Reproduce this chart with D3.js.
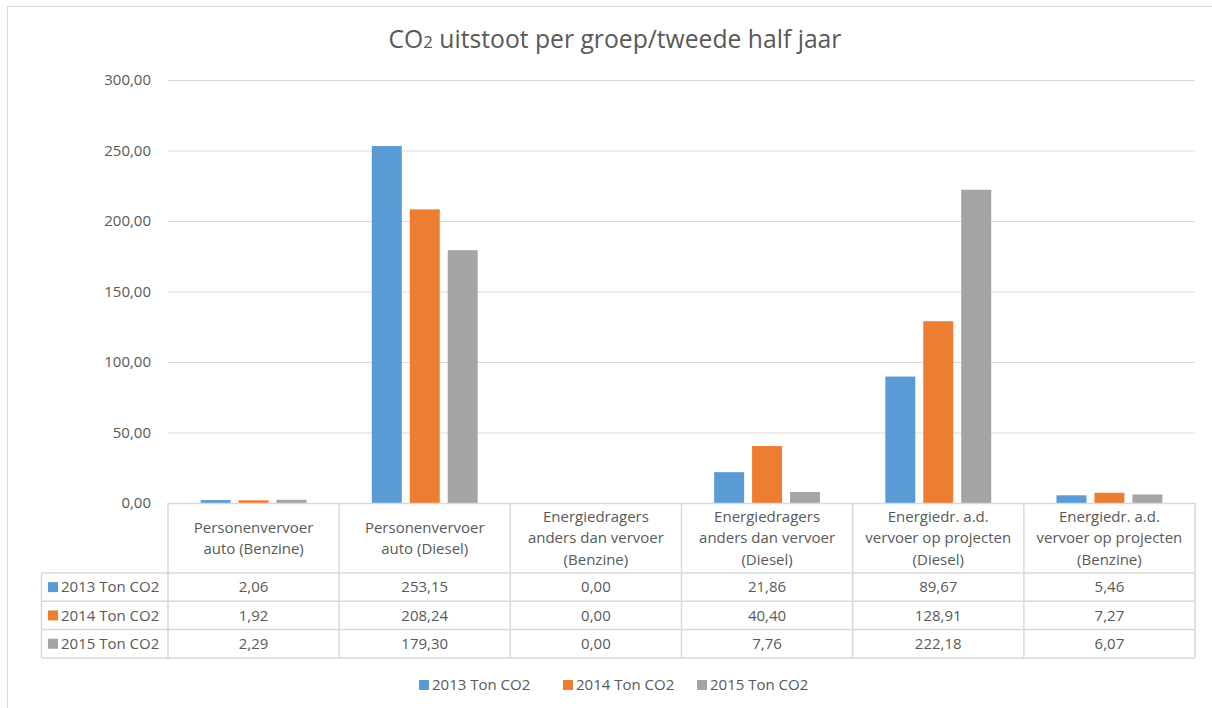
<!DOCTYPE html>
<html>
<head>
<meta charset="utf-8">
<script src="https://cdn.jsdelivr.net/npm/d3@7"></script>
<style>
  html, body { margin: 0; padding: 0; background: #fff; }
  svg { display: block; }
  text { font-family: "Open Sans", "Noto Sans", sans-serif; fill: #595959; }
</style>
</head>
<body>
<svg id="chart" width="1212" height="708"></svg>
<script>
const categories = [
  ["Personenvervoer", "auto (Benzine)"],
  ["Personenvervoer", "auto (Diesel)"],
  ["Energiedragers", "anders dan vervoer", "(Benzine)"],
  ["Energiedragers", "anders dan vervoer", "(Diesel)"],
  ["Energiedr. a.d.", "vervoer op projecten", "(Diesel)"],
  ["Energiedr. a.d.", "vervoer op projecten", "(Benzine)"]
];
const seriesNames = ["2013 Ton CO2", "2014 Ton CO2", "2015 Ton CO2"];
const values2013 = [2.06, 253.15, 0.00, 21.86, 89.67, 5.46];
const values2014 = [1.92, 208.24, 0.00, 40.40, 128.91, 7.27];
const values2015 = [2.29, 179.30, 0.00, 7.76, 222.18, 6.07];
const yTicks = [0, 50, 100, 150, 200, 250, 300];
const colors = ["#5B9BD5", "#ED7D31", "#A5A5A5"];

const seriesValues = [values2013, values2014, values2015];
const svg = d3.select("#chart");

const FS = "15px";
const plotLeft = 168, plotRight = 1195, plotTop = 80, plotBottom = 503;
const catIdx = d3.range(categories.length);
const x = d3.scaleBand().domain(catIdx).range([plotLeft, plotRight]).paddingInner(0).paddingOuter(0);
const xs = d3.scaleBand().domain(d3.range(seriesNames.length)).range([0, x.bandwidth()])
  .paddingInner(0.21).paddingOuter(0.86);
const y = d3.scaleLinear().domain([0, 300]).range([plotBottom, plotTop]);
const fmt = v => d3.format(".2f")(v).replace(".", ",");

// outer frame
svg.append("rect").attr("x", 7.5).attr("y", 6.5).attr("width", 1220).attr("height", 720)
  .attr("fill", "none").attr("stroke", "#d9d9d9").attr("stroke-width", 1);

// title
const title = svg.append("text").attr("x", 615).attr("y", 48).attr("text-anchor", "middle")
  .style("font-size", "22px");
title.append("tspan").text("CO");
title.append("tspan").style("font-size", "15px").text("2");
title.append("tspan").text(" uitstoot per groep/tweede half jaar");
{
  const w = title.node().getComputedTextLength();
  const s = 22 * 453 / w;
  title.style("font-size", s + "px");
  title.select("tspan:nth-child(2)").style("font-size", (s * 0.68) + "px");
}

// y axis with gridlines
const yAxis = d3.axisLeft(y).tickValues(yTicks).tickFormat(fmt)
  .tickSizeInner(-(plotRight - plotLeft)).tickSizeOuter(0).tickPadding(17);
const gy = svg.append("g").attr("transform", `translate(${plotLeft},0)`).call(yAxis);
gy.select(".domain").remove();
gy.selectAll(".tick line").attr("stroke", "#d9d9d9").attr("stroke-width", 1);
gy.selectAll(".tick text").style("font-size", FS).style("font-family", "'Open Sans', sans-serif").attr("fill", "#595959");

// bars
seriesValues.forEach((vals, si) => {
  svg.append("g").selectAll("rect").data(vals).join("rect")
    .attr("x", (d, i) => x(i) + xs(si))
    .attr("width", xs.bandwidth())
    .attr("y", d => y(d))
    .attr("height", d => y(0) - y(d))
    .attr("fill", colors[si]);
});

// data table
const tbl = svg.append("g");
const lineColor = "#d9d9d9";
const headerBottom = 573, rowH = 28.3;
const tableLeft = 41.5;
const rowYs = [headerBottom, headerBottom + rowH, headerBottom + 2 * rowH, headerBottom + 3 * rowH];
tbl.append("line").attr("x1", plotLeft).attr("x2", plotRight).attr("y1", plotBottom + 0.5).attr("y2", plotBottom + 0.5).attr("stroke", lineColor).attr("stroke-width", 1.5);
rowYs.forEach(ry => {
  tbl.append("line").attr("x1", tableLeft).attr("x2", plotRight).attr("y1", ry).attr("y2", ry).attr("stroke", lineColor).attr("stroke-width", 1.5);
});
catIdx.concat([categories.length]).forEach(i => {
  const xx = i < categories.length ? x(i) : plotRight;
  tbl.append("line").attr("x1", xx).attr("x2", xx).attr("y1", plotBottom).attr("y2", rowYs[3]).attr("stroke", lineColor).attr("stroke-width", 1.5);
});
tbl.append("line").attr("x1", tableLeft).attr("x2", tableLeft).attr("y1", headerBottom).attr("y2", rowYs[3]).attr("stroke", lineColor).attr("stroke-width", 1.5);

// header labels
categories.forEach((lines, i) => {
  const cx = x(i) + x.bandwidth() / 2;
  const lh = 21.5;
  const startY = (plotBottom + headerBottom) / 2 - (lines.length - 1) * lh / 2;
  lines.forEach((ln, k) => {
    tbl.append("text").attr("x", cx).attr("y", startY + k * lh).attr("dy", "0.35em")
      .attr("text-anchor", "middle").style("font-size", FS).text(ln);
  });
});

// rows
seriesNames.forEach((name, si) => {
  const cy = rowYs[si] + rowH / 2;
  tbl.append("rect").attr("x", 48).attr("y", cy - 5).attr("width", 10).attr("height", 10).attr("fill", colors[si]);
  tbl.append("text").attr("x", 61).attr("y", cy).attr("dy", "0.35em").style("font-size", FS).text(name);
  seriesValues[si].forEach((v, i) => {
    tbl.append("text").attr("x", x(i) + x.bandwidth() / 2).attr("y", cy).attr("dy", "0.35em")
      .attr("text-anchor", "middle").style("font-size", FS).text(fmt(v));
  });
});

// legend
const legendX = [419, 563, 697];
const leg = svg.append("g");
seriesNames.forEach((name, si) => {
  leg.append("rect").attr("x", legendX[si]).attr("y", 680).attr("width", 10).attr("height", 10).attr("fill", colors[si]);
  leg.append("text").attr("x", legendX[si] + 13).attr("y", 685).attr("dy", "0.35em").style("font-size", FS).text(name);
});
</script>
</body>
</html>
